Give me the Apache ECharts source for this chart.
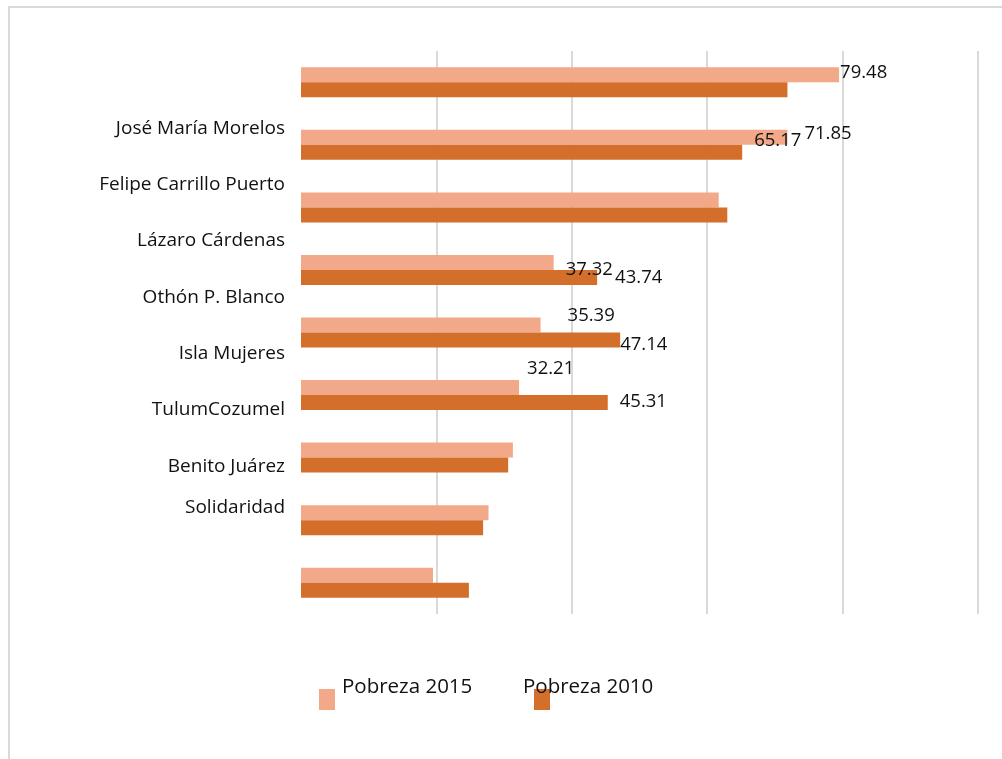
<!DOCTYPE html>
<html><head><meta charset="utf-8">
<script src="https://cdn.jsdelivr.net/npm/echarts@6/dist/echarts.min.js"></script>
<style>html,body{margin:0;padding:0;background:#fff}#c{width:1002px;height:759px}</style>
</head><body><div id="c"></div>
<script>
// ---- data ----
const grupos = ['José María Morelos','Felipe Carrillo Puerto','Lázaro Cárdenas','Othón P. Blanco','Isla Mujeres','Tulum','Cozumel','Benito Juárez','Solidaridad'];
const etiquetasEje = ['', 'José María Morelos','Felipe Carrillo Puerto','Lázaro Cárdenas','Othón P. Blanco','Isla Mujeres','TulumCozumel','Benito Juárez','Solidaridad',''];
const pobreza2015 = [79.48, 71.85, 61.7, 37.32, 35.39, 32.21, 31.3, 27.7, 19.5];
const pobreza2010 = [71.85, 65.17, 62.97, 43.74, 47.14, 45.31, 30.6, 26.9, 24.8];
const ticksX = [0, 20, 40, 60, 80, 100];
const serieNames = ['Pobreza 2015', 'Pobreza 2010'];

// ---- label placement (styles, kept apart from data) ----
const nudge2015 = {0:[1,-2], 1:[17,-4], 3:[12,7.5], 4:[27,-9], 5:[8,-19]};
const nudge2010 = {1:[12,-12], 3:[18,0], 4:[0,5], 5:[12,-1]};
const FONT = '"Open Sans", sans-serif';
const TXT = '#111';
// legend swatch: 16x21 box sitting in the lower part of a 16x46 item
const SWATCH = 'path://M0,0L16,0Z M0,25L16,25L16,46L0,46Z';

function build(values, nudges) {
  return values.map((v, i) => {
    const n = nudges[i];
    if (!n) return { value: v };
    return { value: v, label: { show: true, offset: n } };
  });
}

const chart = echarts.init(document.getElementById('c'), null, { renderer: 'canvas' });
chart.setOption({
  animation: false,
  backgroundColor: '#fff',
  textStyle: { fontFamily: FONT },
  graphic: [{
    type: 'rect', silent: true, z: -1,
    shape: { x: 9, y: 7, width: 1100, height: 1000 },
    style: { fill: 'none', stroke: '#d9d9d9', lineWidth: 2 }
  }],
  grid: [
    { left: 301, right: 24, top: 51, height: 563 },
    { left: 301, right: 24, top: 44, height: 563 }
  ],
  xAxis: [
    { type: 'value', gridIndex: 0, min: ticksX[0], max: ticksX[ticksX.length - 1], interval: ticksX[1] - ticksX[0],
      axisLabel: { show: false }, axisLine: { show: false }, axisTick: { show: false },
      splitLine: { show: true, showMinLine: false, lineStyle: { color: '#d9d9d9', width: 2 } } },
    { type: 'value', gridIndex: 1, show: false, min: 0, max: 100 }
  ],
  yAxis: [
    { type: 'category', gridIndex: 0, data: grupos, inverse: true,
      axisLabel: { show: false }, axisLine: { show: false }, axisTick: { show: false }, splitLine: { show: false } },
    { type: 'category', gridIndex: 1, data: etiquetasEje, inverse: true,
      axisLine: { show: false }, axisTick: { show: false }, splitLine: { show: false },
      axisLabel: {
        margin: 16, fontSize: 19, color: TXT, fontFamily: FONT, interval: 0,
        formatter: (v) => v === 'Solidaridad' ? '{s|' + v + '}' : v,
        rich: { s: { fontSize: 19, color: TXT, fontFamily: FONT, padding: [0, 0, 29, 0] } }
      } }
  ],
  legend: [
    { data: [serieNames[0]], left: 319, top: 664, padding: 0, itemWidth: 16, itemHeight: 46,
      icon: SWATCH, selectedMode: false,
      textStyle: { fontSize: 20.5, color: TXT, fontFamily: FONT, padding: [0, 0, 0, 2] } },
    { data: [serieNames[1]], left: 523, top: 664, padding: 0, itemWidth: 16, itemHeight: 46,
      icon: SWATCH, selectedMode: false,
      textStyle: { fontSize: 20.5, color: TXT, fontFamily: FONT, padding: [0, 0, 0, -32] } }
  ],
  series: [
    { name: serieNames[0], type: 'bar', xAxisIndex: 0, yAxisIndex: 0, barWidth: 15, barGap: '0%',
      itemStyle: { color: '#F1A98A' },
      label: { show: false, position: 'right', distance: 0, fontSize: 18.5, color: TXT, fontFamily: FONT, formatter: '{c}' },
      data: build(pobreza2015, nudge2015) },
    { name: serieNames[1], type: 'bar', xAxisIndex: 0, yAxisIndex: 0, barWidth: 15, barGap: '0%',
      itemStyle: { color: '#D36F2B' },
      label: { show: false, position: 'right', distance: 0, fontSize: 18.5, color: TXT, fontFamily: FONT, formatter: '{c}' },
      data: build(pobreza2010, nudge2010) }
  ]
});
</script></body></html>
